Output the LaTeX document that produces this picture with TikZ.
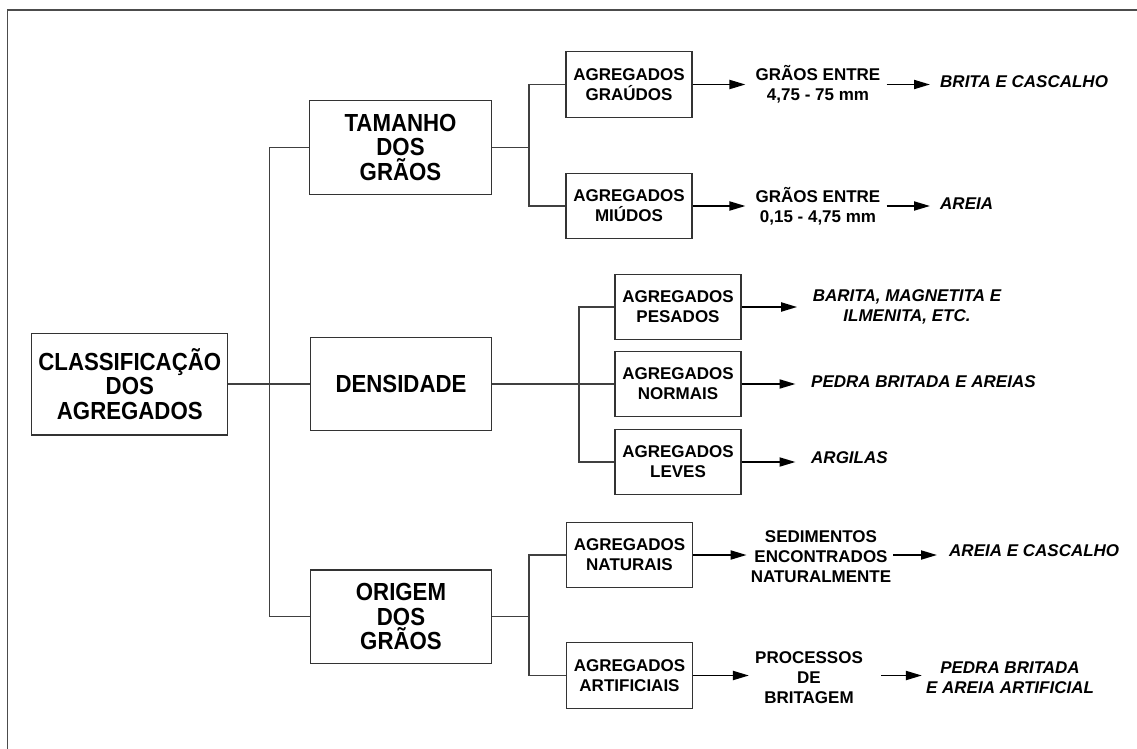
\documentclass[tikz,border=0pt]{standalone}
\usepackage{fontspec}
\setmainfont{Liberation Sans}
\newfontfamily\bigfont{Liberation Sans}[FakeStretch=0.9]
\usetikzlibrary{arrows.meta}
\begin{document}
\begin{tikzpicture}[x=1pt,y=-1pt,
  bigbox/.style={draw=black!80,line width=1.3pt,minimum width=181.5pt,minimum height=93.5pt,inner sep=0pt,align=center,font=\bigfont\fontsize{24.7}{24.7}\selectfont\bfseries},
  rootbox/.style={bigbox,minimum width=196pt,minimum height=101.7pt},
  smallbox/.style={draw=black!80,line width=1.3pt,minimum width=126pt,minimum height=65.5pt,inner sep=0pt,align=center,font=\fontsize{17}{20}\selectfont\bfseries},
  lbl/.style={inner sep=0pt,align=center,font=\fontsize{17}{20}\selectfont\bfseries},
  ital/.style={inner sep=0pt,align=center,font=\fontsize{17}{20}\selectfont\bfseries\itshape},
  conn/.style={draw=black!75,line width=1.2pt},
  frameline/.style={draw=black!70,line width=1.2pt},
  arr/.style={draw=black,line width=1.9pt,-{Triangle[length=16pt,width=9pt]}},
]
\useasboundingbox (0,0) rectangle (1137,749);
\draw[frameline] (1137,10) -- (7.5,10) -- (7.5,749);

% main boxes
\node[rootbox] (root) at (129.8,384) {CLASSIFICAÇÃO\\DOS\\AGREGADOS};
\node[bigbox] (tam) at (400.5,147.4) {TAMANHO\\DOS\\GRÃOS};
\node[bigbox] (dens) at (401,384) {DENSIDADE};
\node[bigbox] (ori) at (401,616.7) {ORIGEM\\DOS\\GRÃOS};

% sub boxes
\node[smallbox] (grau) at (629,84.5) {AGREGADOS\\GRAÚDOS};
\node[smallbox] (miud) at (629,206) {AGREGADOS\\MIÚDOS};
\node[smallbox] (pes) at (678,307) {AGREGADOS\\PESADOS};
\node[smallbox] (norm) at (678,384) {AGREGADOS\\NORMAIS};
\node[smallbox] (lev) at (678,462) {AGREGADOS\\LEVES};
\node[smallbox] (nat) at (629.5,555) {AGREGADOS\\NATURAIS};
\node[smallbox] (art) at (629.5,675.5) {AGREGADOS\\ARTIFICIAIS};

% labels
\node[lbl] (g1) at (818,84) {GRÃOS ENTRE\\4,75 - 75 mm};
\node[lbl] (g2) at (818,206) {GRÃOS ENTRE\\0,15 - 4,75 mm};
\node[ital,anchor=west] (r1) at (940,82) {BRITA E CASCALHO};
\node[ital,anchor=west] (r2) at (940,204) {AREIA};
\node[ital] (r3) at (907,307) {BARITA, MAGNETITA E\\ILMENITA, ETC.};
\node[ital,anchor=west] (r4) at (811,382) {PEDRA BRITADA E AREIAS};
\node[ital,anchor=west] (r5) at (811,458) {ARGILAS};
\node[lbl] (s1) at (821,556.7) {SEDIMENTOS\\ENCONTRADOS\\NATURALMENTE};
\node[ital,anchor=west] (r6) at (949,551) {AREIA E CASCALHO};
\node[lbl] (s2) at (809,678) {PROCESSOS\\DE\\BRITAGEM};
\node[ital] (r7) at (1010,677.5) {PEDRA BRITADA\\E AREIA ARTIFICIAL};

% tree connectors
\coordinate (bus) at ([xshift=-40pt]tam.west);
\draw[conn] (root.east) -- (dens.west);
\draw[conn] (tam.west) -- (bus) -- (bus |- ori.west) -- (ori.west);

\coordinate (b1) at ([xshift=37pt]tam.east);
\draw[conn] (tam.east) -- (b1);
\draw[conn] (grau.west) -| (b1) |- (miud.west);

\coordinate (b2) at ([xshift=86.5pt]dens.east);
\draw[conn] (dens.east) -- (norm.west);
\draw[conn] (pes.west) -| (b2) |- (lev.west);

\coordinate (b3) at ([xshift=36.5pt]ori.east);
\draw[conn] (ori.east) -- (b3);
\draw[conn] (nat.west) -| (b3) |- (art.west);

% arrows
\draw[arr] (grau.east) -- ([xshift=-10pt]g1.west |- grau.east);
\draw[arr] ([xshift=6pt]g1.east |- grau.east) -- ([xshift=-10pt]r1.west |- grau.east);
\draw[arr] (miud.east) -- ([xshift=-10pt]g2.west |- miud.east);
\draw[arr] ([xshift=6pt]g2.east |- miud.east) -- ([xshift=-10pt]r2.west |- miud.east);

\draw[arr] (pes.east) -- ([xshift=-15.5pt]r3.west |- pes.east);
\draw[arr] (norm.east) -- ([xshift=-15.5pt]r4.west |- norm.east);
\draw[arr] (lev.east) -- ([xshift=-15.5pt]r5.west |- lev.east);

\draw[arr] (nat.east) -- ([xshift=-4pt]s1.west |- nat.east);
\draw[arr] ([xshift=2pt]s1.east |- nat.east) -- ([xshift=-12pt]r6.west |- nat.east);
\draw[arr] (art.east) -- ([xshift=-6pt]s2.west |- art.east);
\draw[arr] ([xshift=18pt]s2.east |- art.east) -- ([xshift=-4pt]r7.west |- art.east);
\end{tikzpicture}
\end{document}
